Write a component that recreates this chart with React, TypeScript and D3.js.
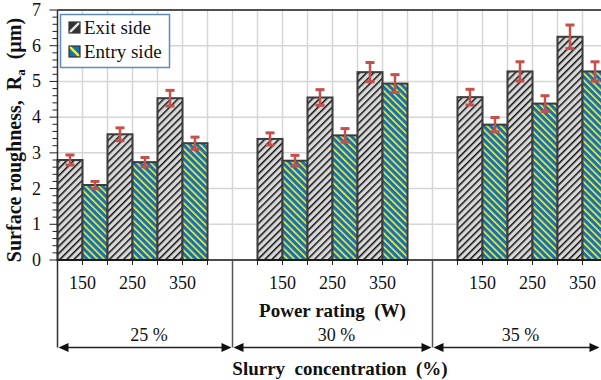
import React from "react";
import * as d3 from "d3";

// Slurry concentration groups, power ratings, and measured roughness (Ra, µm)
const concentrations = ["25 %", "30 %", "35 %"];
const powers = ["150", "250", "350"];
const exitSide = [2.8, 3.52, 4.53, 3.39, 4.55, 5.26, 4.56, 5.28, 6.25];
const exitErr = [0.14, 0.18, 0.22, 0.17, 0.22, 0.27, 0.22, 0.27, 0.33];
const entrySide = [2.1, 2.74, 3.27, 2.78, 3.49, 4.94, 3.79, 4.38, 5.28];
const entryErr = [0.1, 0.13, 0.17, 0.15, 0.19, 0.25, 0.2, 0.22, 0.27];
const yTicks = [0, 1, 2, 3, 4, 5, 6, 7];
const seriesNames = ["Exit side", "Entry side"];

const W = 601;
const H = 380;
const plotLeft = 57.5;
const plotTop = 10;
const plotBottom = 260;
const slotW = 25;
const FONT = "Liberation Serif, Times New Roman, serif";

// One band per bar, plus two empty bands between concentration groups
const slots: string[] = [];
concentrations.forEach((c, ci) => {
  powers.forEach((p) => {
    slots.push(`${ci}-${p}-exit`, `${ci}-${p}-entry`);
  });
  if (ci < concentrations.length - 1) slots.push(`gap${ci}a`, `gap${ci}b`);
});
const plotRight = plotLeft + slots.length * slotW;

const x = d3.scaleBand<string>().domain(slots).range([plotLeft, plotRight]).padding(0);
const y = d3.scaleLinear().domain([0, 7]).range([plotBottom, plotTop]);
const minorTicks = d3.range(0, 7.001, 0.2);

type Bar = { key: string; value: number; err: number; side: "exit" | "entry" };
const bars: Bar[] = [];
concentrations.forEach((_, ci) => {
  powers.forEach((p, pi) => {
    const i = ci * powers.length + pi;
    bars.push({ key: `${ci}-${p}-exit`, value: exitSide[i], err: exitErr[i], side: "exit" });
    bars.push({ key: `${ci}-${p}-entry`, value: entrySide[i], err: entryErr[i], side: "entry" });
  });
});

// Separators sit at the middle of each gap
const separators = concentrations.slice(0, -1).map((_, ci) => x(`gap${ci}b`)!);
const spanEdges = [plotLeft, ...separators, W - 0.5];
const arrowY = 347.5;

const arrowHead = (tipX: number, dir: 1 | -1) => {
  const len = 10;
  const half = 4.5;
  return `M${tipX},${arrowY} L${tipX - dir * len},${arrowY - half} L${tipX - dir * len},${arrowY + half} Z`;
};

const textStyle: React.CSSProperties = { fontFamily: FONT, whiteSpace: "pre" };

export default function App() {
  return (
    <div style={{ position: "absolute", left: 0, top: 0 }}>
      <svg width={W} height={H} style={{ display: "block", background: "#fff" }}>
        <defs>
          <pattern id="hatchExit" patternUnits="userSpaceOnUse" width={5} height={5} patternTransform="rotate(45)">
            <rect width={5} height={5} fill="#d9d9d9" />
            <rect width={1.5} height={5} fill="#111" />
          </pattern>
          <pattern id="hatchEntry" patternUnits="userSpaceOnUse" width={4.8} height={4.8} patternTransform="rotate(-45)">
            <rect width={4.8} height={4.8} fill="#1670b8" />
            <rect width={1.6} height={4.8} fill="#f4f032" />
          </pattern>
          <clipPath id="clipExitSwatch">
            <rect x={69} y={22} width={11} height={11} />
          </clipPath>
          <clipPath id="clipEntrySwatch">
            <rect x={69} y={46} width={11} height={11} />
          </clipPath>
        </defs>

        {/* grid */}
        <g stroke="#d6d6d6" strokeWidth={1.5}>
          {yTicks.slice(1).map((t) => (
            <line key={`h${t}`} x1={plotLeft} x2={W} y1={y(t)} y2={y(t)} />
          ))}
          {slots.slice(1).map((s) => (
            <line key={`v${s}`} x1={x(s)!} x2={x(s)!} y1={plotTop} y2={plotBottom} />
          ))}
        </g>

        {/* bars */}
        {bars.map((b) => (
          <rect
            key={b.key}
            x={x(b.key)!}
            y={y(b.value)}
            width={x.bandwidth()}
            height={plotBottom - y(b.value)}
            fill={b.side === "exit" ? "url(#hatchExit)" : "url(#hatchEntry)"}
            stroke="#3c3c3c"
            strokeWidth={2}
          />
        ))}

        {/* error bars */}
        <g stroke="#c4504c">
          {bars.map((b) => {
            const cx = x(b.key)! + x.bandwidth() / 2;
            return (
              <g key={`e${b.key}`}>
                <line x1={cx} x2={cx} y1={y(b.value + b.err)} y2={y(b.value - b.err)} strokeWidth={2.5} />
                <line x1={cx - 4.5} x2={cx + 4.5} y1={y(b.value + b.err)} y2={y(b.value + b.err)} strokeWidth={3} />
                <line x1={cx - 4.5} x2={cx + 4.5} y1={y(b.value - b.err)} y2={y(b.value - b.err)} strokeWidth={3} />
              </g>
            );
          })}
        </g>

        {/* frame and axes */}
        <line x1={plotLeft} x2={W} y1={plotTop} y2={plotTop} stroke="#222" strokeWidth={1.5} />
        <line x1={plotLeft} x2={plotLeft} y1={plotTop} y2={arrowY} stroke="#333" strokeWidth={1.5} />
        <line x1={plotLeft} x2={W} y1={plotBottom} y2={plotBottom} stroke="#111" strokeWidth={1.5} />
        <g stroke="#222" strokeWidth={1}>
          {minorTicks.map((t, i) => (
            <line key={`m${i}`} x1={plotLeft - (i % 5 === 0 ? 8 : 5)} x2={plotLeft} y1={y(t)} y2={y(t)} />
          ))}
          {slots.map((s) => (
            <line key={`t${s}`} x1={x(s)!} x2={x(s)!} y1={plotBottom} y2={plotBottom + 5} />
          ))}
          <line x1={plotRight} x2={plotRight} y1={plotBottom} y2={plotBottom + 5} />
        </g>
        {separators.map((sx, i) => (
          <line key={`sep${i}`} x1={sx} x2={sx} y1={plotBottom} y2={arrowY} stroke="#555" strokeWidth={1.5} />
        ))}

        {/* y tick labels */}
        <g fontSize={18} textAnchor="end" fill="#111">
          {yTicks.map((t) => (
            <text key={`yl${t}`} x={41} y={y(t) + 6} style={textStyle}>
              {t}
            </text>
          ))}
        </g>

        {/* power labels */}
        <g fontSize={18} textAnchor="middle" fill="#111">
          {concentrations.map((_, ci) =>
            powers.map((p) => (
              <text key={`pl${ci}${p}`} x={x(`${ci}-${p}-entry`)!} y={289} style={textStyle}>
                {p}
              </text>
            ))
          )}
        </g>

        <text x={(plotLeft + plotRight) / 2} y={317} fontSize={19} fontWeight="bold" textAnchor="middle" fill="#111" style={textStyle}>
          {"Power rating  (W)"}
        </text>

        {/* concentration spans */}
        {concentrations.map((c, ci) => {
          const x0 = spanEdges[ci];
          const x1 = spanEdges[ci + 1];
          const mid = (x0 + Math.min(x1, plotRight)) / 2 + 4;
          return (
            <g key={`span${ci}`}>
              <line x1={x0 + 8} x2={x1 - 8} y1={arrowY} y2={arrowY} stroke="#222" strokeWidth={1.3} />
              <path d={arrowHead(x0 + 1, -1)} fill="#111" />
              <path d={arrowHead(x1 - 1, 1)} fill="#111" />
              <text x={mid} y={341} fontSize={18} textAnchor="middle" fill="#111" style={textStyle}>
                {c}
              </text>
            </g>
          );
        })}

        <text x={340} y={375} fontSize={19} fontWeight="bold" textAnchor="middle" fill="#111" style={textStyle}>
          {"Slurry  concentration  (%)"}
        </text>

        {/* y axis title */}
        <text transform="translate(21,140) rotate(-90)" fontSize={20} fontWeight="bold" textAnchor="middle" fill="#111" style={textStyle}>
          <tspan>{"Surface roughness,  R"}</tspan>
          <tspan fontSize={13} dy={4}>a</tspan>
          <tspan dy={-4}>{"  (µm)"}</tspan>
        </text>

        {/* legend */}
        <rect x={60.5} y={14.5} width={109} height={53} fill="#fff" stroke="#5b8ac6" strokeWidth={1.5} />
        <g clipPath="url(#clipExitSwatch)">
          <rect x={69} y={22} width={11} height={11} fill="#333" />
          <line x1={69} x2={80} y1={33} y2={22} stroke="#e8e8e8" strokeWidth={2.5} />
        </g>
        <rect x={69} y={22} width={11} height={11} fill="none" stroke="#333" strokeWidth={1.2} />
        <g clipPath="url(#clipEntrySwatch)">
          <rect x={69} y={46} width={11} height={11} fill="#1670b8" />
          <line x1={69} x2={80} y1={46} y2={57} stroke="#f4f032" strokeWidth={2.5} />
        </g>
        <rect x={69} y={46} width={11} height={11} fill="none" stroke="#333" strokeWidth={1.2} />
        <g fontSize={19} fill="#111">
          <text x={84} y={34} style={textStyle}>{seriesNames[0]}</text>
          <text x={84} y={58} style={textStyle}>{seriesNames[1]}</text>
        </g>
      </svg>
    </div>
  );
}
